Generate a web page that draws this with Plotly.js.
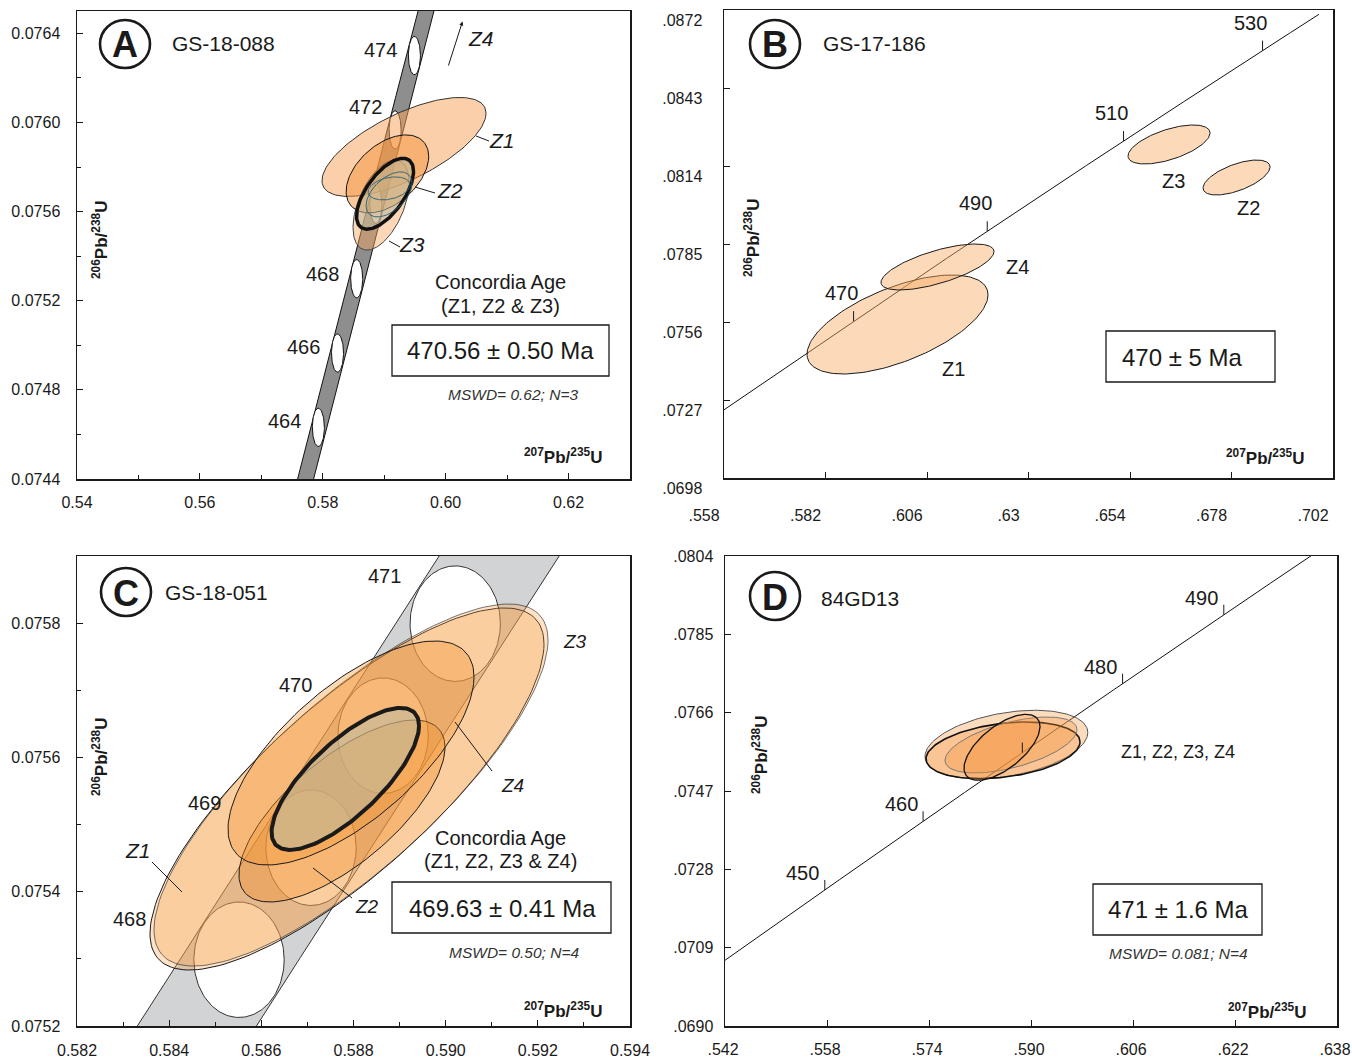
<!DOCTYPE html>
<html><head><meta charset="utf-8">
<script src="https://cdn.plot.ly/plotly-3.0.1.min.js"></script>
<style>html,body{margin:0;padding:0;background:#fff;}#chart{width:1352px;height:1059px;}</style>
</head><body><div id="chart"></div>
<script>
// ---------------- constants & data ----------------
const LAMBDA_238 = 1.55125e-10;   // per year
const LAMBDA_235 = 9.8485e-10;    // per year

// Panel A  GS-18-088
const A_ages = [464, 466, 468, 470, 472, 474];
const A_ageLabels = ['464', '466', '468', '', '472', '474'];
const A_names = ['Z1', 'Z3', 'Z2'];
const A_x   = [0.59322, 0.58948, 0.59052];
const A_sx  = [0.01335, 0.00456, 0.00672];
const A_y   = [0.075890, 0.075629, 0.075769];
const A_sy  = [0.000222, 0.000202, 0.000175];
const A_rho = [0.68, 0.50, 0.45];
const A_innerX = [0.59078, 0.59078];
const A_innerSx = [0.00374, 0.00342];
const A_innerY = [0.075677, 0.075704];
const A_innerSy = [0.000101, 0.0000516];
const A_innerRho = [0.5, 0.3];
const A_concX = 0.59013, A_concSx = 0.00464, A_concY = 0.075680, A_concSy = 0.000159, A_concRho = 0.63;
const A_xTicks = [0.54, 0.56, 0.58, 0.60, 0.62];
const A_xTickText = ['0.54', '0.56', '0.58', '0.60', '0.62'];
const A_yTicks = [0.0744, 0.0748, 0.0752, 0.0756, 0.0760, 0.0764];
const A_yTickText = ['0.0744', '0.0748', '0.0752', '0.0756', '0.0760', '0.0764'];

// Panel B  GS-17-186
const B_ages = [470, 490, 510, 530];
const B_ageLabels = ['470', '490', '510', '530'];
const B_names = ['Z1', 'Z2', 'Z3', 'Z4'];
const B_x   = [0.59903, 0.67919, 0.66323, 0.60848];
const B_sx  = [0.02140, 0.00792, 0.00970, 0.01336];
const B_y   = [0.075507, 0.080972, 0.082200, 0.077645];
const B_sy  = [0.00184, 0.00065, 0.000725, 0.000855];
const B_rho = [0.60, 0.60, 0.59, 0.67];
const B_xTicks = [0.558, 0.582, 0.606, 0.630, 0.654, 0.678, 0.702];
const B_xTickText = ['.558', '.582', '.606', '.63', '.654', '.678', '.702'];
const B_yTicks = [0.0698, 0.0727, 0.0756, 0.0785, 0.0814, 0.0843, 0.0872];
const B_yTickText = ['.0698', '.0727', '.0756', '.0785', '.0814', '.0843', '.0872'];

// Panel C  GS-18-051
const C_ages = [468, 469, 470, 471];
const C_ageLabels = ['468', '469', '470', '471'];
const C_names = ['Z1', 'Z3', 'Z2', 'Z4'];
const C_x   = [0.587859, 0.587946, 0.587750, 0.587946];
const C_sx  = [0.004275, 0.004275, 0.002235, 0.002669];
const C_y   = [0.0755530, 0.0755589, 0.0755202, 0.0756066];
const C_sy  = [0.0002696, 0.0002696, 0.0001355, 0.0001668];
const C_rho = [0.80, 0.80, 0.70, 0.68];
const C_concX = 0.587822, C_concSx = 0.00160, C_concY = 0.075568, C_concSy = 0.0001057, C_concRho = 0.75;
const C_xTicks = [0.582, 0.584, 0.586, 0.588, 0.590, 0.592, 0.594];
const C_xTickText = ['0.582', '0.584', '0.586', '0.588', '0.590', '0.592', '0.594'];
const C_yTicks = [0.0752, 0.0754, 0.0756, 0.0758];
const C_yTickText = ['0.0752', '0.0754', '0.0756', '0.0758'];

// Panel D  84GD13
const D_ages = [450, 460, 470, 480, 490];
const D_ageLabels = ['450', '460', '', '480', '490'];
const D_names = ['Z1', 'Z2', 'Z3', 'Z4'];
const D_x   = [0.58614, 0.58561, 0.58686, 0.58545];
const D_sx  = [0.01277, 0.01208, 0.01035, 0.00596];
const D_y   = [0.075828, 0.075687, 0.075816, 0.075760];
const D_sy  = [0.00083, 0.000687, 0.000679, 0.00080];
const D_rho = [0.35, 0.30, 0.55, 0.63];
const D_xTicks = [0.542, 0.558, 0.574, 0.590, 0.606, 0.622, 0.638];
const D_xTickText = ['.542', '.558', '.574', '.590', '.606', '.622', '.638'];
const D_yTicks = [0.0690, 0.0709, 0.0728, 0.0747, 0.0766, 0.0785, 0.0804];
const D_yTickText = ['.0690', '.0709', '.0728', '.0747', '.0766', '.0785', '.0804'];

// decay-constant envelope half width and age-marker ellipse size
const BAND_DX = 0.0013;
const AGE_SX = 0.00098, AGE_SY = 0.000086;

// ---------------- helpers ----------------
const W = 1352, H = 1059;
const FONT = 'Liberation Sans, Arial, Helvetica, sans-serif';
function conc(t) { return [Math.exp(LAMBDA_235 * t * 1e6) - 1, Math.exp(LAMBDA_238 * t * 1e6) - 1]; }
function curve(t0, t1) {
  const xs = [], ys = [];
  for (let i = 0; i <= 400; i++) { const p = conc(t0 + (t1 - t0) * i / 400); xs.push(p[0]); ys.push(p[1]); }
  return [xs, ys];
}
function ellipse(cx, cy, sx, sy, rho) {
  const xs = [], ys = [], r = Math.sqrt(1 - rho * rho);
  for (let i = 0; i <= 160; i++) {
    const th = 2 * Math.PI * i / 160;
    xs.push(cx + sx * Math.cos(th));
    ys.push(cy + sy * (rho * Math.cos(th) + r * Math.sin(th)));
  }
  return [xs, ys];
}
const traces = [];
function poly(ax, xy, fill, lc, lw) {
  traces.push({type: 'scatter', mode: 'lines', x: xy[0], y: xy[1], xaxis: 'x' + ax, yaxis: 'y' + ax,
    fill: fill ? 'toself' : 'none', fillcolor: fill || 'rgba(0,0,0,0)',
    line: {color: lc, width: lw}, hoverinfo: 'skip', showlegend: false});
}
function band(ax, t0, t1, fill, lc) {
  const c = curve(t0, t1);
  const xs = c[0].map(v => v - BAND_DX).concat(c[0].slice().reverse().map(v => v + BAND_DX));
  const ys = c[1].concat(c[1].slice().reverse());
  xs.push(xs[0]); ys.push(ys[0]);
  poly(ax, [xs, ys], fill, lc, 1);
}
const px = v => v / W, py = v => 1 - v / H;
const annotations = [], shapes = [];
function txt(x, y, text, size, o) {
  o = o || {};
  annotations.push(Object.assign({xref: 'paper', yref: 'paper', x: px(x), y: py(y), text: text, showarrow: false,
    xanchor: 'center', yanchor: 'middle', font: {family: FONT, size: size, color: o.color || '#1a1a1a'}}, o.extra || {}));
}
function seg(x0, y0, x1, y1, w) {
  shapes.push({type: 'line', xref: 'paper', yref: 'paper', x0: px(x0), y0: py(y0), x1: px(x1), y1: py(y1), line: {color: '#1a1a1a', width: w || 1}});
}
function rect(x0, y0, x1, y1) {
  shapes.push({type: 'rect', xref: 'paper', yref: 'paper', x0: px(x0), y0: py(y0), x1: px(x1), y1: py(y1), line: {color: '#1a1a1a', width: 1.3}});
}
function letter(cx, cy, L) {
  shapes.push({type: 'circle', xref: 'paper', yref: 'paper', x0: px(cx - 25), x1: px(cx + 25), y0: py(cy + 24), y1: py(cy - 24), line: {color: '#1a1a1a', width: 2.6}});
  txt(cx, cy + 1, '<b>' + L + '</b>', 36);
}
function ageLabel(ax, t, label, dx, dy) {
  if (!label) return;
  const p = conc(t);
  annotations.push({xref: 'x' + ax, yref: 'y' + ax, x: p[0], y: p[1], text: label, showarrow: false,
    xshift: dx, yshift: dy, font: {family: FONT, size: 20, color: '#1a1a1a'}});
}
function ageTick(ax, t) {
  const p = conc(t);
  shapes.push({type: 'line', xref: 'x' + ax, yref: 'y' + ax, xsizemode: 'pixel', ysizemode: 'pixel',
    xanchor: p[0], yanchor: p[1], x0: 0, x1: 0, y0: 0, y1: 10, line: {color: '#1a1a1a', width: 1}});
}

// ---------------- Panel A ----------------
band('', 450, 485, '#8e8e8e', '#111');
A_ages.forEach(t => { const p = conc(t); poly('', ellipse(p[0], p[1], AGE_SX, AGE_SY, 0), '#ffffff', '#111', 1); });
const A_fill = ['rgba(247,163,90,0.52)', 'rgba(247,165,95,0.45)', 'rgba(243,148,60,0.5)'];
const A_line = ['#333', '#444', '#111'];
A_names.forEach((n, i) => poly('', ellipse(A_x[i], A_y[i], A_sx[i], A_sy[i], A_rho[i]), A_fill[i], A_line[i], 1));
poly('', ellipse(A_concX, A_concY, A_concSx, A_concSy, A_concRho), 'rgba(185,185,160,0.55)', '#111', 3.5);
A_innerX.forEach((v, i) => poly('', ellipse(A_innerX[i], A_innerY[i], A_innerSx[i], A_innerSy[i], A_innerRho[i]), null, 'rgba(40,95,115,0.9)', 1));
const A_lblShift = [[-34, 6], [-34, 6], [-34, 5], [0, 0], [-30, 23], [-34, 6]];
A_ages.forEach((t, i) => ageLabel('', t, A_ageLabels[i], A_lblShift[i][0], A_lblShift[i][1]));

// ---------------- Panel B ----------------
{ const c = curve(449, 538); poly('2', c, null, '#111', 1); }
B_ages.forEach(t => ageTick('2', t));
B_names.forEach((n, i) => poly('2', ellipse(B_x[i], B_y[i], B_sx[i], B_sy[i], B_rho[i]), 'rgba(248,170,100,0.45)', '#1a1a1a', 1));
B_ages.forEach((t, i) => ageLabel('2', t, B_ageLabels[i], -12, 28));

// ---------------- Panel C ----------------
band('3', 462, 476, '#d1d3d5', '#333');
C_ages.forEach(t => { const p = conc(t); poly('3', ellipse(p[0], p[1], AGE_SX, AGE_SY, 0), '#ffffff', '#333', 1); });
const C_fill = ['rgba(248,160,70,0.30)', 'rgba(248,160,70,0.30)', 'rgba(240,140,40,0.36)', 'rgba(245,150,50,0.36)'];
const C_lc = ['#1a1a1a', 'rgba(30,30,30,0.6)', '#1a1a1a', '#1a1a1a'];
C_names.forEach((n, i) => poly('3', ellipse(C_x[i], C_y[i], C_sx[i], C_sy[i], C_rho[i]), C_fill[i], C_lc[i], 1));
poly('3', ellipse(C_concX, C_concY, C_concSx, C_concSy, C_concRho), 'rgba(185,185,160,0.55)', '#1a1a1a', 4);
const C_lblShift = [[-110, 41], [-107, 45], [-88, 51], [-71, 48]];
C_ages.forEach((t, i) => ageLabel('3', t, C_ageLabels[i], C_lblShift[i][0], C_lblShift[i][1]));

// ---------------- Panel D ----------------
{ const c = curve(438, 500); poly('4', c, null, '#111', 1); }
D_ages.forEach(t => ageTick('4', t));
const D_line = ['#555', '#111', '#777', '#111'];
const D_lw = [1, 1.6, 1, 1.3];
D_names.forEach((n, i) => poly('4', ellipse(D_x[i], D_y[i], D_sx[i], D_sy[i], D_rho[i]), 'rgba(245,150,60,0.33)', D_line[i], D_lw[i]));
D_ages.forEach((t, i) => ageLabel('4', t, D_ageLabels[i], -22, 17));

// ---------------- text & decorations ----------------
const ITAL = s => '<i>' + s + '</i>';
// A
letter(125, 44, 'A'); txt(223, 44, 'GS-18-088', 21);
txt(481, 39, ITAL('Z4'), 21);
annotations.push({xref: 'paper', yref: 'paper', x: px(462.5), y: py(21.5), ax: -15, ay: 47, text: ' ', showarrow: true,
  arrowhead: 2, arrowsize: 0.8, arrowwidth: 1, arrowcolor: '#1a1a1a', font: {size: 2}});
txt(502, 140, ITAL('Z1'), 21); seg(476, 136, 489, 141);
txt(450, 190, ITAL('Z2'), 21); seg(415, 187, 435, 193);
txt(412, 244, ITAL('Z3'), 21); seg(389, 241, 400, 247);
txt(500, 282, 'Concordia Age', 20); txt(500, 306, '(Z1, Z2 &amp; Z3)', 20);
rect(392, 325, 609, 376); txt(500, 351, '470.56 ± 0.50 Ma', 24);
txt(513, 394, ITAL('MSWD= 0.62; N=3'), 15.5, {color: '#333'});
txt(563, 456, '<b><sup>207</sup>Pb/<sup>235</sup>U</b>', 17);
txt(100, 240, '<b><sup>206</sup>Pb/<sup>238</sup>U</b>', 17, {extra: {textangle: -90}});
// B
letter(775, 44, 'B'); txt(875, 43, 'GS-17-186', 21);
txt(1017, 267, 'Z4', 20); txt(1173, 181, 'Z3', 20); txt(1248, 208, 'Z2', 20); txt(953, 369, 'Z1', 20);
rect(1106, 331, 1275, 382); txt(1182, 357, '470 ± 5 Ma', 24);
txt(1265, 457, '<b><sup>207</sup>Pb/<sup>235</sup>U</b>', 17);
txt(752, 238, '<b><sup>206</sup>Pb/<sup>238</sup>U</b>', 17, {extra: {textangle: -90}});
// C
letter(126, 592, 'C'); txt(216, 592, 'GS-18-051', 21);
txt(138, 850, ITAL('Z1'), 21); seg(152, 862, 182, 892);
txt(367, 906, ITAL('Z2'), 19); seg(313, 868, 352, 898);
txt(575, 641, ITAL('Z3'), 19);
txt(512, 785, ITAL('Z4'), 19); seg(455, 722, 492, 771);
txt(501, 838, 'Concordia Age', 20); txt(501, 861, '(Z1, Z2, Z3 &amp; Z4)', 20);
rect(392, 882, 611, 933); txt(502, 908, '469.63 ± 0.41 Ma', 24);
txt(514, 952, ITAL('MSWD= 0.50; N=4'), 15.5, {color: '#333'});
txt(563, 1010, '<b><sup>207</sup>Pb/<sup>235</sup>U</b>', 17);
txt(100, 757, '<b><sup>206</sup>Pb/<sup>238</sup>U</b>', 17, {extra: {textangle: -90}});
// D
letter(775, 596, 'D'); txt(860, 598, '84GD13', 21);
txt(1178, 752, 'Z1, Z2, Z3, Z4', 18);
rect(1093, 884, 1262, 935); txt(1178, 909, '471 ± 1.6 Ma', 24);
txt(1178, 953, ITAL('MSWD= 0.081; N=4'), 15.5, {color: '#333'});
txt(1267, 1011, '<b><sup>207</sup>Pb/<sup>235</sup>U</b>', 17);
txt(760, 755, '<b><sup>206</sup>Pb/<sup>238</sup>U</b>', 17, {extra: {textangle: -90}});

// ---------------- axes ----------------
function xax(l, r, range, tv, tt, anchor, minor, shift, standoff) {
  const a = {domain: [l / W, r / W], range: range, anchor: anchor, tickmode: 'array', tickvals: tv, ticktext: tt,
    ticks: 'inside', ticklen: 6, tickwidth: 1, tickcolor: '#1a1a1a', showline: true, mirror: true,
    linecolor: '#1a1a1a', linewidth: 1.5, showgrid: false, zeroline: false, fixedrange: true,
    ticklabeloverflow: 'allow',
    tickfont: {family: FONT, size: 16, color: '#1a1a1a'}, ticklabelshift: shift || 0, ticklabelstandoff: standoff};
  if (minor) a.minor = {tick0: range[0], dtick: minor, ticks: 'inside', ticklen: 4, tickcolor: '#1a1a1a', tickwidth: 1, showgrid: false};
  return a;
}
function yax(t, b, range, tv, tt, anchor, minor, shift, standoff) {
  const a = xax(0, 1, range, tv, tt, anchor, minor, shift, standoff);
  a.domain = [1 - b / H, 1 - t / H];
  return a;
}
const layout = {
  width: W, height: H, margin: {l: 0, r: 0, t: 0, b: 0}, paper_bgcolor: '#fff', plot_bgcolor: 'rgba(0,0,0,0)',
  showlegend: false,
  xaxis:  xax(77, 630, [0.54, 0.63], A_xTicks, A_xTickText, 'y', 0.01, 0, 8),
  yaxis:  yax(11, 479, [0.0744, 0.0765], A_yTicks, A_yTickText, 'x', 0.0002, 0, 12),
  xaxis2: xax(724, 1333, [0.558, 0.702], B_xTicks, B_xTickText, 'y2', null, -20, 22),
  yaxis2: yax(10, 478, [0.0698, 0.0872], B_yTicks, B_yTickText, 'x2', null, 10, 17),
  xaxis3: xax(77, 630, [0.582, 0.594], C_xTicks, C_xTickText, 'y3', 0.001, 0, 9),
  yaxis3: yax(556, 1026, [0.0752, 0.0759], C_yTicks, C_yTickText, 'x3', 0.0001, 0, 12),
  xaxis4: xax(725, 1337, [0.542, 0.638], D_xTicks, D_xTickText, 'y4', null, -2, 8),
  yaxis4: yax(556, 1026, [0.0690, 0.0804], D_yTicks, D_yTickText, 'x4', null, 0, 7),
  annotations: annotations, shapes: shapes
};
Plotly.newPlot('chart', traces, layout, {displayModeBar: false, staticPlot: true});
</script></body></html>
